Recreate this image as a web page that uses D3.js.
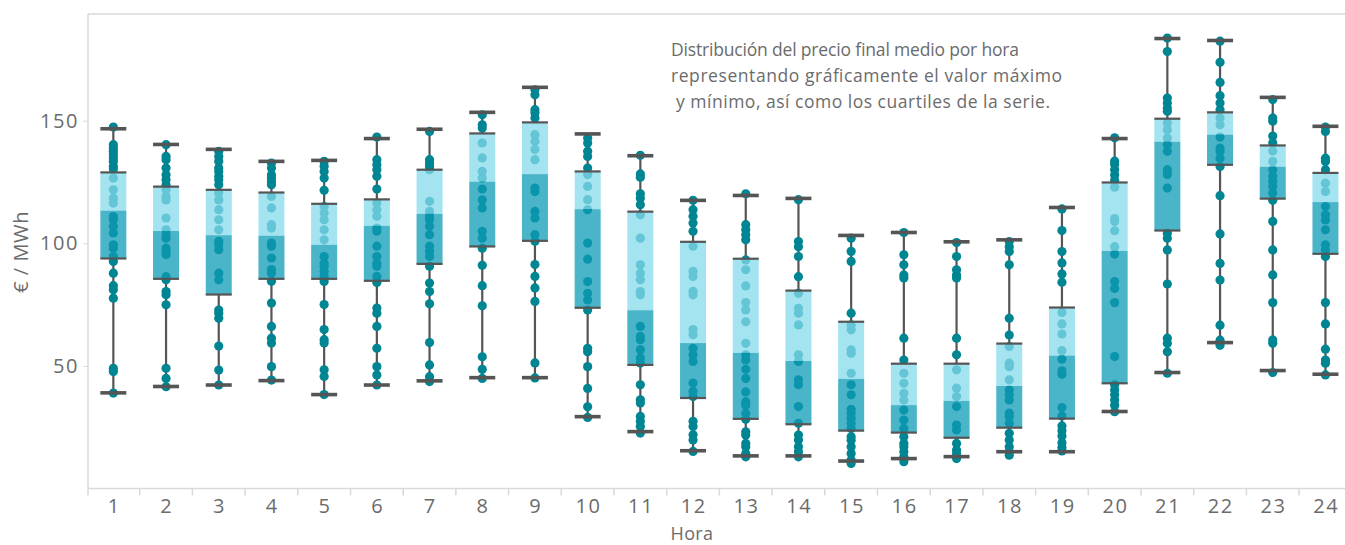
<!DOCTYPE html>
<html>
<head>
<meta charset="utf-8">
<script src="https://cdn.jsdelivr.net/npm/d3@7"></script>
<style>
  html, body { margin: 0; padding: 0; background: #fff; }
  svg { display: block; }
  text { font-family: "Open Sans", "Noto Sans", sans-serif; fill: #6b6b6b; }
</style>
</head>
<body>
<svg id="chart" width="1345" height="545"></svg>
<script>
const hours = ["1","2","3","4","5","6","7","8","9","10","11","12","13","14","15","16","17","18","19","20","21","22","23","24"];
const yTicks = [50, 100, 150];

const mins    = [39.0, 41.6, 42.2, 44.0, 38.3, 42.2, 43.9, 45.2, 45.2, 29.3, 23.2, 15.4, 13.3, 13.3, 11.2, 12.2, 13.0, 15.0, 15.0, 31.4, 47.3, 59.5, 48.1, 46.6];
const q1s     = [93.8, 85.5, 79.1, 85.5, 85.5, 84.7, 91.6, 98.7, 101.0, 73.7, 50.4, 36.9, 28.4, 26.2, 23.6, 22.8, 20.7, 24.8, 28.5, 42.9, 105.2, 132.0, 118.2, 95.7];
const medians = [113.3, 105.0, 103.3, 103.1, 99.4, 107.1, 112.0, 125.1, 128.2, 113.9, 72.7, 59.3, 55.3, 52.0, 44.7, 34.0, 35.7, 41.8, 54.2, 96.9, 141.4, 144.3, 131.2, 116.8];
const q3s     = [128.9, 123.1, 121.8, 120.7, 116.1, 117.9, 130.0, 144.8, 149.3, 129.3, 112.9, 100.6, 93.7, 80.7, 68.0, 50.9, 50.9, 59.1, 73.8, 124.8, 150.8, 153.4, 139.9, 128.7];
const maxs    = [146.7, 140.3, 138.3, 133.4, 133.8, 142.7, 146.5, 153.4, 163.6, 144.6, 135.7, 117.5, 119.5, 118.3, 103.2, 104.4, 100.6, 101.4, 114.6, 142.7, 183.5, 182.7, 159.5, 147.7];

const points = [
  [147.4,140.2,138.8,137.5,136.1,134.8,133.4,131.4,130.3,126.6,121.8,118.4,116.4,110.9,109.6,106.9,104.2,99.4,98.0,94.6,92.6,87.8,82.7,81.0,77.6,49.0,47.7,38.9],
  [140.2,135.4,134.1,130.7,127.9,125.9,123.9,121.8,119.1,117.7,110.3,105.5,103.5,102.1,98.0,96.7,95.4,86.4,85.1,80.3,79.0,74.9,49.0,44.9,41.5],
  [137.5,135.4,133.4,130.7,129.3,127.3,125.9,123.9,120.5,117.7,113.7,109.6,105.5,100.8,99.4,97.4,87.8,85.1,72.8,71.5,69.4,58.1,48.3,42.2],
  [132.7,130.7,127.9,126.6,125.2,123.9,119.1,114.4,107.6,106.2,100.1,98.8,94.0,89.3,87.9,84.5,75.6,66.1,61.3,59.3,49.7,44.2],
  [133.4,131.4,129.3,126.6,121.6,115.0,112.3,109.6,105.5,101.4,94.6,91.9,90.6,88.5,86.5,84.4,75.0,64.8,60.7,59.3,48.4,45.7,38.3],
  [143.3,134.1,132.0,130.0,127.3,122.1,116.4,113.7,111.0,106.2,104.9,98.8,94.6,91.9,90.6,86.5,84.0,73.6,71.5,66.1,57.2,49.7,46.3,42.2],
  [145.6,134.1,132.7,131.4,130.0,117.1,113.0,111.0,109.6,106.9,103.5,98.8,96.7,94.6,90.6,83.8,80.3,75.3,59.5,50.4,45.6,43.6],
  [152.4,148.3,147.0,140.9,134.8,129.3,126.6,122.1,117.7,114.4,104.9,102.1,98.0,91.0,82.7,74.5,53.7,48.6,44.9],
  [162.6,160.6,154.5,153.1,151.1,144.3,141.6,138.2,134.1,122.5,121.1,113.0,110.3,103.5,100.8,91.3,86.5,81.8,76.3,51.2,45.1],
  [142.9,140.9,137.5,135.4,130.7,128.0,123.2,117.8,113.7,100.1,93.5,84.4,79.6,76.9,72.8,57.2,55.8,49.7,40.8,33.3,29.0],
  [135.9,128.3,126.9,120.2,118.4,115.7,111.6,102.1,91.2,87.8,85.1,80.3,79.0,66.1,62.0,60.7,56.6,53.2,51.2,42.3,36.2,34.9,29.4,27.4,25.3,22.6],
  [117.5,113.7,111.0,108.3,104.9,98.8,88.6,86.5,80.4,79.0,64.8,62.7,57.2,54.5,51.8,43.0,39.6,37.5,27.4,25.3,21.9,19.8,15.1],
  [120.2,107.6,105.5,103.5,101.4,93.2,89.2,82.6,75.8,72.8,68.0,59.2,54.5,52.4,48.6,44.9,39.4,35.4,34.0,30.6,28.2,23.1,21.8,18.4,17.0,14.3,12.9],
  [117.8,100.7,98.6,94.6,86.4,79.6,73.5,71.5,66.7,54.5,51.8,44.3,42.3,33.4,26.6,21.8,19.8,17.0,15.0,12.9],
  [102.1,96.7,92.6,71.5,66.7,64.7,56.5,55.2,47.0,42.3,38.2,32.3,30.7,28.6,26.6,24.5,21.1,19.7,17.0,14.3,11.6,10.2],
  [104.4,95.3,91.2,87.1,85.8,61.3,52.4,47.0,42.9,38.8,36.1,32.0,27.9,24.5,21.1,18.4,17.0,15.0,12.9,10.9],
  [100.3,94.6,89.2,87.1,85.8,61.3,54.5,48.4,40.9,37.5,33.4,25.9,23.9,18.4,15.7,14.3,12.2],
  [100.7,98.6,96.6,91.2,69.4,62.6,57.9,51.1,49.7,44.3,40.2,38.2,36.1,30.7,29.3,26.6,22.5,19.8,17.0,15.0,13.6],
  [114.0,105.2,96.6,92.0,87.5,84.1,71.8,67.1,63.0,56.2,52.7,48.0,46.6,33.0,29.6,25.5,23.5,21.4,18.7,16.7,15.3],
  [143.0,133.5,132.1,130.0,127.8,125.6,122.9,110.1,108.9,105.1,98.6,95.6,84.4,81.6,75.8,53.8,42.3,40.2,38.2,36.1,34.0,31.3],
  [183.7,178.2,159.2,157.2,155.2,153.8,149.0,146.3,142.9,140.2,137.5,130.0,128.0,122.5,104.1,102.1,97.3,83.4,61.3,59.2,55.8,47.0],
  [182.4,173.8,165.6,160.2,157.2,154.5,151.1,148.3,143.3,138.8,137.4,134.7,131.3,119.4,103.8,91.8,85.0,66.6,60.5,58.4],
  [158.6,151.1,149.8,143.7,141.0,137.6,133.4,130.0,127.3,125.2,123.2,120.5,117.5,108.9,97.3,87.1,75.8,60.6,59.2,47.3],
  [147.4,145.6,134.7,133.4,130.0,124.5,121.1,115.0,111.6,109.5,105.5,99.4,97.3,94.6,75.8,67.1,56.8,52.4,51.1,46.3]
];

const noteLines = [
  "Distribución del precio final medio por hora",
  "representando gráficamente el valor máximo",
  " y mínimo, así como los cuartiles de la serie."
];

const svg = d3.select("#chart");
const plotLeft = 88, plotTop = 14, plotBottom = 488.5;

const x = d3.scaleBand().domain(hours).range([87, 87 + 24 * 52.7]).padding(0);
const y = d3.scaleLinear().domain([0, 193.5]).range([plotBottom, plotTop]);
const boxW = 26;
const cx = h => x(h) + x.bandwidth() / 2;

// frame top line
svg.append("line").attr("x1", plotLeft).attr("x2", 1345).attr("y1", plotTop).attr("y2", plotTop)
  .attr("stroke", "#d9d9d9").attr("stroke-width", 1.5);

// Y axis
const yAxis = d3.axisLeft(y).tickValues(yTicks).tickSize(5).tickPadding(4);
const gy = svg.append("g").attr("transform", `translate(${plotLeft},0)`).call(yAxis);
gy.select(".domain").attr("stroke", "#d9d9d9").attr("stroke-width", 1.5).attr("d", `M0,${plotTop}V${plotBottom}`);
gy.selectAll(".tick line").attr("stroke", "#d9d9d9");
gy.selectAll(".tick text").style("font-size", "20px").attr("fill", "#6b6b6b")
  .style("letter-spacing", "1.6px")
  .style("font-family", '"Open Sans", sans-serif');

// X axis
const xAxis = d3.axisBottom(x).tickSize(0).tickPadding(10);
const gx = svg.append("g").attr("transform", `translate(0,${plotBottom})`).call(xAxis);
gx.select(".domain").attr("stroke", "#d9d9d9").attr("stroke-width", 1.5).attr("d", `M${plotLeft},0H1345`);
gx.selectAll(".tick text").style("font-size", "20px").attr("fill", "#6b6b6b")
  .style("letter-spacing", "1.6px").attr("dx", "0.8px")
  .style("font-family", '"Open Sans", sans-serif');
// band separators
svg.append("g").selectAll("line").data(hours).join("line")
  .attr("x1", d => Math.max(plotLeft, x(d))).attr("x2", d => Math.max(plotLeft, x(d)))
  .attr("y1", plotBottom).attr("y2", plotBottom + 7)
  .attr("stroke", "#d9d9d9").attr("stroke-width", 1.5);

// Axis titles
svg.append("text").attr("x", 692).attr("y", 540).attr("text-anchor", "middle")
  .style("font-size", "18px").style("letter-spacing", "0.4px").text("Hora");
svg.append("text").attr("transform", "translate(28,252) rotate(-90)").attr("text-anchor", "middle")
  .style("font-size", "20px").style("letter-spacing", "0.6px").text("€ / MWh");

// Note
const noteWidths = [348, 391, 374];
const note = svg.append("text").attr("x", 671).attr("y", 56).style("font-size", "17.5px")
  .style("white-space", "pre");
note.selectAll("tspan").data(noteLines).join("tspan")
  .attr("x", (d, i) => i === 2 ? 676 : 671).attr("dy", (d, i) => i === 0 ? 0 : 26)
  .attr("textLength", (d, i) => noteWidths[i]).attr("lengthAdjust", "spacing")
  .text(d => d.trim());

const stats = hours.map((h, i) => ({ h, min: mins[i], q1: q1s[i], med: medians[i], q3: q3s[i], max: maxs[i], pts: points[i] }));

const g = svg.append("g");
// whiskers
g.selectAll(".wh-top").data(stats).join("line")
  .attr("x1", d => cx(d.h)).attr("x2", d => cx(d.h))
  .attr("y1", d => y(d.max)).attr("y2", d => y(d.q3))
  .attr("stroke", "#555").attr("stroke-width", 2.2);
g.selectAll(".wh-bot").data(stats).join("line")
  .attr("x1", d => cx(d.h)).attr("x2", d => cx(d.h))
  .attr("y1", d => y(d.q1)).attr("y2", d => y(d.min))
  .attr("stroke", "#555").attr("stroke-width", 2.2);

// points
stats.forEach(s => {
  g.append("g").selectAll("circle").data(s.pts).join("circle")
    .attr("cx", cx(s.h)).attr("cy", d => y(d)).attr("r", 4.6)
    .attr("fill", "#008593");
});

// boxes (upper & lower halves, semi-opaque over points)
g.selectAll(".upper").data(stats).join("rect")
  .attr("x", d => cx(d.h) - boxW / 2).attr("width", boxW)
  .attr("y", d => y(d.q3)).attr("height", d => y(d.med) - y(d.q3))
  .attr("fill", "#84dbeb").attr("fill-opacity", 0.75);
g.selectAll(".lower").data(stats).join("rect")
  .attr("x", d => cx(d.h) - boxW / 2).attr("width", boxW)
  .attr("y", d => y(d.med)).attr("height", d => y(d.q1) - y(d.med))
  .attr("fill", "#0e9bb5").attr("fill-opacity", 0.75);

// quartile edges
["q1", "q3"].forEach(k => {
  g.selectAll(".edge-" + k).data(stats).join("line")
    .attr("x1", d => cx(d.h) - boxW / 2).attr("x2", d => cx(d.h) + boxW / 2)
    .attr("y1", d => y(d[k])).attr("y2", d => y(d[k]))
    .attr("stroke", "#555").attr("stroke-width", 2.2);
});
// caps
["min", "max"].forEach(k => {
  g.selectAll(".cap-" + k).data(stats).join("line")
    .attr("x1", d => cx(d.h) - boxW / 2).attr("x2", d => cx(d.h) + boxW / 2)
    .attr("y1", d => y(d[k])).attr("y2", d => y(d[k]))
    .attr("stroke", "#555").attr("stroke-width", 3.6);
});
</script>
</body>
</html>
